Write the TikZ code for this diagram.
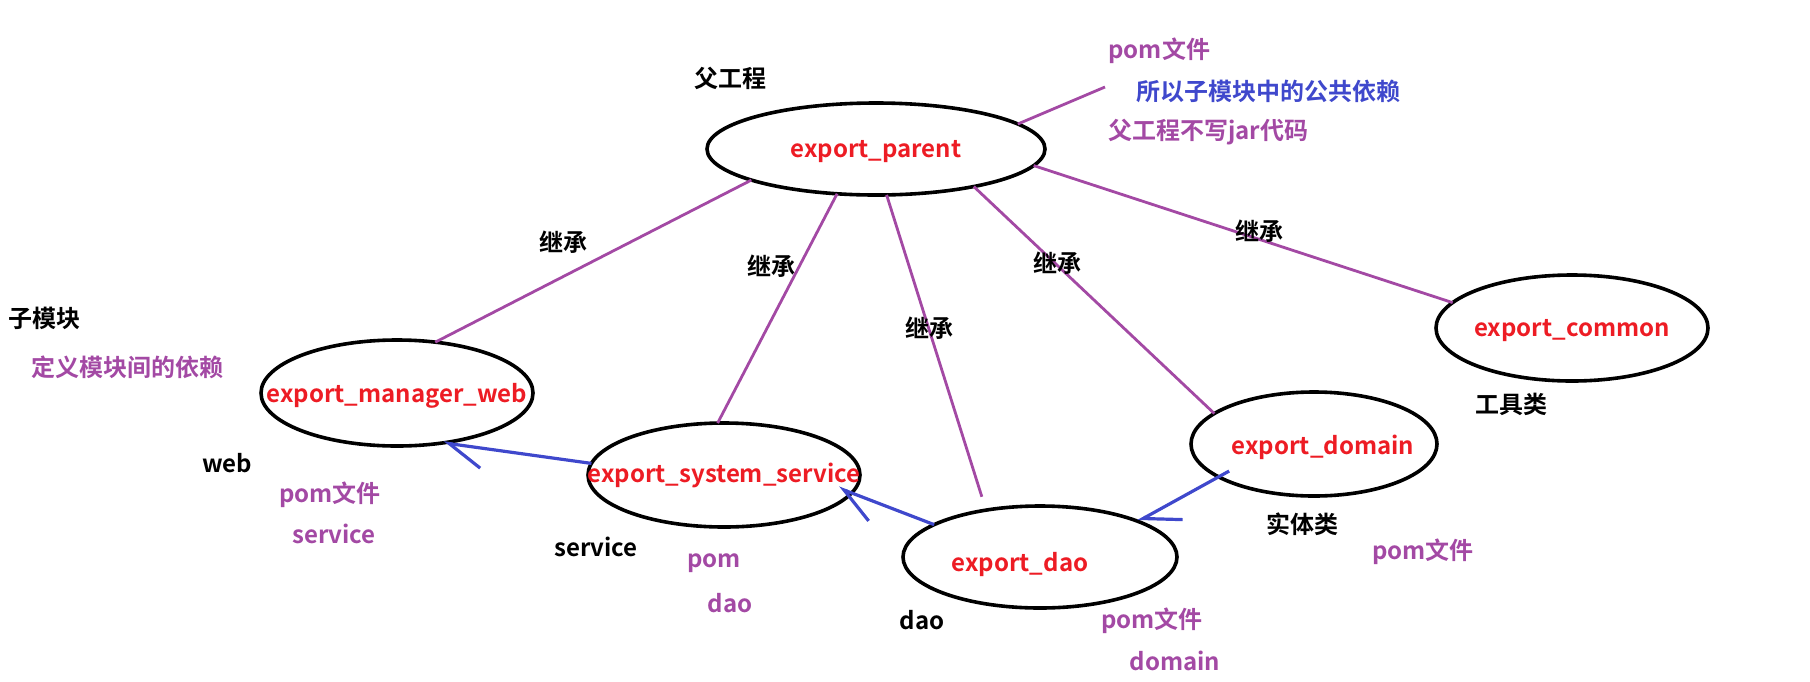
\documentclass[tikz,border=0pt]{standalone}
\usepackage{fontspec}
\setmainfont{Noto Sans CJK SC}[BoldFont={Noto Sans CJK SC Bold}]
\usepackage{xcolor}
\usepackage{tikz}
\usetikzlibrary{shapes,arrows.meta,positioning}
\definecolor{modred}{HTML}{ED1C24}
\definecolor{notepurple}{HTML}{A349A4}
\definecolor{depblue}{HTML}{3F48CC}

\begin{document}
\begin{tikzpicture}[
    x=0.5pt, y=-0.5pt,
    module/.style={ellipse, draw=black, line width=1.8pt, minimum width=136pt, minimum height=52pt, inner sep=0pt, outer sep=0pt},
    modname/.style={font=\fontsize{12}{14}\selectfont\bfseries, text=modred, inner sep=0pt, yshift=-1.5pt},
    tag/.style={font=\fontsize{12}{14}\selectfont\bfseries, text=black, inner sep=0pt},
    note/.style={font=\fontsize{12}{14}\selectfont\bfseries, text=notepurple, inner sep=0pt},
    bluenote/.style={note, text=depblue},
    inherit/.style={draw=notepurple, line width=1.4pt},
    depend/.style={draw=depblue, line width=1.6pt, -{Straight Barb[harpoon, length=17pt, width=20pt]}}
]
    \useasboundingbox (0,0) rectangle (1810,681);

    % --- MODULES ---
    \node[module, minimum width=169pt, minimum height=46pt] (parent) at (876,149) {};
    \node[module, minimum height=53pt] (web) at (397,393) {};
    \node[module] (service) at (724,475) {};
    \node[module, minimum width=137pt, minimum height=51pt] (dao) at (1040,557) {};
    \node[module, minimum width=123pt] (domain) at (1314,444) {};
    \node[module, minimum height=53pt] (common) at (1572,328) {};

    \node[modname] (parentname) at (parent) {export\_parent};
    \node[modname] (webname) at (web) {export\_manager\_web};
    \node[modname, yshift=1.5pt] (servicename) at (service) {export\_system\_service};
    \node[modname, xshift=-10pt, yshift=-2pt] (daoname) at (dao) {export\_dao};
    \node[modname, xshift=4.5pt] (domainname) at (domain) {export\_domain};
    \node[modname] (commonname) at (common) {export\_common};

    % --- INHERITANCE LINES ---
    \draw[inherit] (parent.194) -- (web.53);
    \draw[inherit] (parent.229) -- (service.97);
    \draw[inherit, shorten >=7pt] (parent.283) -- (dao.139);
    \draw[inherit] (parent.339) -- (domain.163);
    \draw[inherit] (parent.354) -- (common.168);

    \node[tag] (inh1) at (563,242) {继承};
    \node[tag] (inh2) at (771,266) {继承};
    \node[tag] (inh3) at (929,328) {继承};
    \node[tag] (inh4) at (1057,263) {继承};
    \node[tag] (inh5) at (1259,231) {继承};

    % --- DEPENDENCIES ---
    \draw[depend] (service.175) -- (web.313);
    \draw[depend, shorten >=-7pt] (dao.163) -- (service.352);
    \draw[depend, shorten <=-6pt] (domain.199) -- (dao.20);

    % --- PARENT NOTES ---
    \coordinate (noteend) at (1105,87);
    \draw[inherit] (parent.10) -- (noteend);
    \node[tag] (parenttag) at (730,78) {父工程};
    \node[note, anchor=west] (pnote1) at (1108,51) {pom文件};
    \node[bluenote, anchor=west] (pnote2) at (1136,91) {所以子模块中的公共依赖};
    \node[note, anchor=west] (pnote3) at (1108,132) {父工程不写jar代码};

    % --- MODULE NOTES ---
    \node[tag, anchor=west] (childtag) at (8,318) {子模块};
    \node[note, anchor=west] (childnote) at (31,367) {定义模块间的依赖};

    \node[tag] (webtag) at (227,463) {web};
    \node[note] (webpom) at (330,495) {pom文件};
    \node[note] (webdep) at (334,534) {service};

    \node[tag] (servicetag) at (596,547) {service};
    \node[note] (servicepom) at (714,563) {pom};
    \node[note] (servicedep) at (730,603) {dao};

    \node[tag] (daotag) at (922,620) {dao};
    \node[note] (daopom) at (1152,621) {pom文件};
    \node[note] (daodep) at (1175,661) {domain};

    \node[tag] (domaintag) at (1302,524) {实体类};
    \node[note] (domainpom) at (1423,552) {pom文件};

    \node[tag] (commontag) at (1511,404) {工具类};
\end{tikzpicture}
\end{document}
